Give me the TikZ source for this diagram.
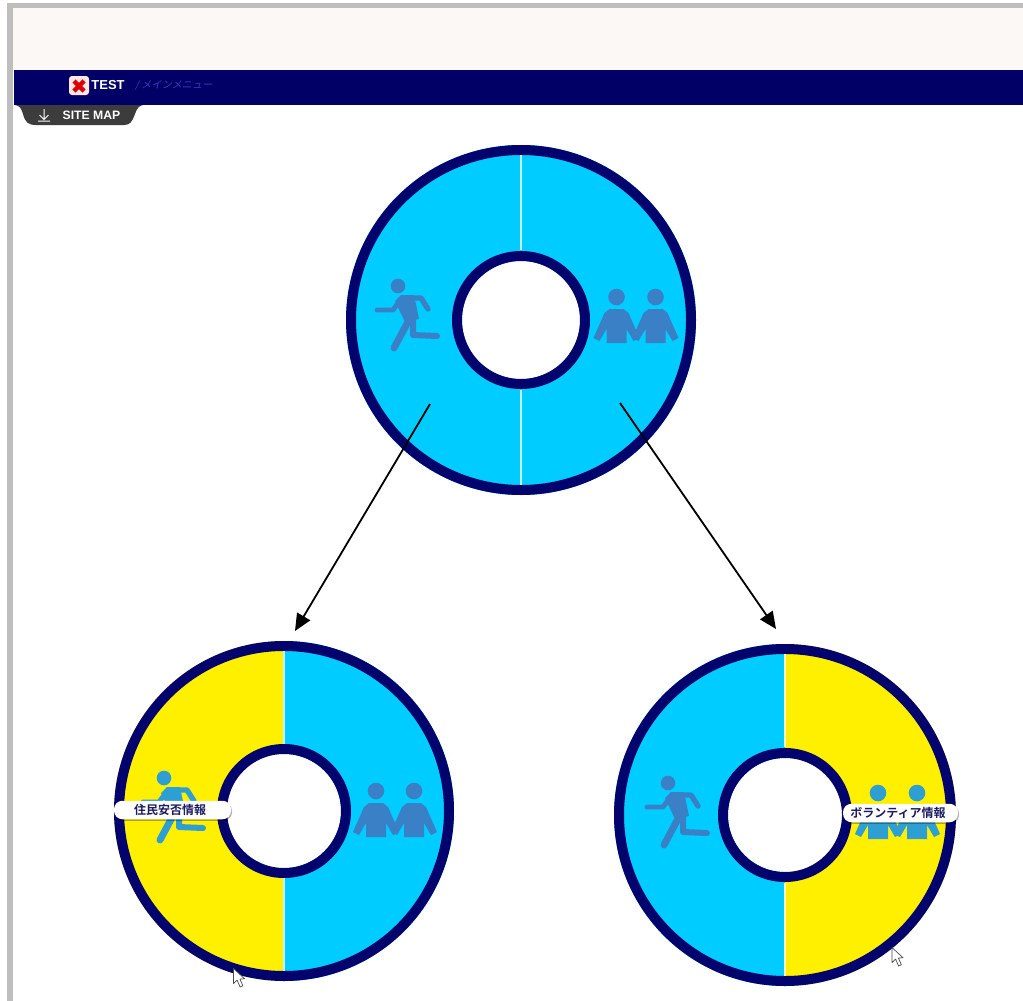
\documentclass[tikz,border=0pt]{standalone}
\usepackage{fontspec}
\setmainfont{Liberation Sans}
\newfontfamily\cjkb{Noto Sans CJK JP Bold}
\newfontfamily\cjkl[FakeSlant=0.2]{Noto Sans CJK JP}
\usetikzlibrary{arrows.meta,shadows}
\definecolor{navyband}{HTML}{000066}
\definecolor{ringnavy}{HTML}{03036E}
\definecolor{skyfill}{HTML}{00CCFF}
\definecolor{yellowfill}{HTML}{FFF000}
\definecolor{iconsky}{HTML}{3A80C6}
\definecolor{iconyel}{HTML}{2E9FD2}
\definecolor{framegray}{HTML}{BEBEBE}
\definecolor{topstrip}{HTML}{FCF8F5}
\definecolor{tabgray}{HTML}{3C3C3C}
\definecolor{menublue}{HTML}{3A3AC0}
\definecolor{labelnavy}{HTML}{1C1C60}
\tikzset{
  flow/.style={draw=black,line width=1.8pt,-{Triangle[length=17pt,width=15pt]}},
  pill/.style={fill=white,rounded corners=8.5pt,minimum height=18.5pt,inner sep=0pt,
    text=labelnavy,font=\cjkb\fontsize{12}{12}\selectfont,
    drop shadow={shadow xshift=1pt,shadow yshift=-1.5pt,opacity=.3,fill=black}},
  limb/.style={line width=5.4pt,line cap=round,line join=round},
  cursorshape/.style={fill=white,draw=black!70,line width=.7pt,line join=round}
}
% ring: cx cy R r leftcolour rightcolour
\newcommand{\ringd}[6]{%
  \begin{scope}[shift={(#1,#2)}]
    \begin{scope}\clip (-400,-400) rectangle (0,400);
      \fill[#5] (0,0) circle (#3 pt);\end{scope}
    \begin{scope}\clip (0,-400) rectangle (400,400);
      \fill[#6] (0,0) circle (#3 pt);\end{scope}
    \draw[ringnavy,line width=10pt] (0,0) circle (#3 pt - 5pt);
    \fill[white] (0,0) circle (#4 pt);
    \draw[ringnavy,line width=10pt] (0,0) circle (#4 pt + 5pt);
  \end{scope}}
\newcommand{\runfig}[3]{%
  \begin{scope}[shift={(#1,#2)},#3]
    \fill (0,0) circle (7.3pt);
    \draw[limb,line width=4.8pt] (-21,24) -- (-5,24) -- (3,13);
    \draw[limb] (4,12) -- (23,12) -- (30,23);
    \fill (-3,15) -- (3,9) -- (16,9) -- (21,33) -- (7,36) -- cycle;
    \draw[limb,line width=6pt] (15,30) -- (15,49) -- (39,50);
    \draw[limb,line width=7pt] (12,32) -- (-4,62);
  \end{scope}}
\newcommand{\personfig}[3]{%
  \begin{scope}[shift={(#1,#2)},#3]
    \fill (0,0) circle (8.3pt);
    \fill (-7,12) -- (7,12) -- (12,16) -- (23,41) -- (17,44) -- (10,32) -- (10,46) -- (-10,46) -- (-10,32) -- (-17,44) -- (-23,41) -- (-12,16) -- cycle;
  \end{scope}}
\newcommand{\cursorfig}[2]{%
  \begin{scope}[shift={(#1,#2)}]
    \path[cursorshape] (0,0) -- (0,15) -- (3.6,11.6) -- (6.6,18.5) -- (9.4,17.2) -- (6.4,10.6) -- (11,10.2) -- cycle;
  \end{scope}}
\begin{document}
\begin{tikzpicture}[x=1pt,y=-1pt]
\useasboundingbox (0,0) rectangle (1023,1001);
\fill[white] (0,0) rectangle (1023,1001);
% frame
\fill[topstrip] (13,8) rectangle (1023,70);
\fill[framegray] (7,3) rectangle (1023,8);
\fill[framegray] (7,3) rectangle (13,1001);
\fill[navyband] (14,70) rectangle (1023,105);
% site map tab
\fill[tabgray] (15,105) .. controls (20,106) and (21,108) .. (23,114) .. controls (25,122) and (28,125) .. (36,125) -- (124,125) .. controls (130,125) and (132,122) .. (135,114) .. controls (137,108) and (139,106) .. (143,105) -- cycle;
\draw[white,line width=1pt] (44,109) -- (44,119) (39.5,115) -- (44,119.5) -- (48.5,115) (38,121) -- (50,121);
\node[text=white,font=\bfseries\fontsize{12.2}{13}\selectfont,inner sep=0pt] (sitemap) at (91.5,115) {SITE MAP};
% header
\fill[white!90!red,rounded corners=3pt] (69,76) rectangle (89,95);
\draw[red!85!black,line width=4.4pt] (74,81) -- (84,91) (84,81) -- (74,91);
\node[text=white,font=\bfseries\fontsize{13}{14}\selectfont,inner sep=0pt] (testlbl) at (108,85.5) {TEST};
\node[text=menublue,font=\cjkl\fontsize{10.2}{12}\selectfont,inner sep=0pt,anchor=west] (menulbl) at (135,85) {/ メインメニュー};
% rings
\ringd{521}{320}{175}{59}{skyfill}{skyfill}
\fill[white!75!skyfill] (520.4,155) rectangle (521.8,250);
\fill[white!75!skyfill] (520.4,390) rectangle (521.8,485);
\ringd{284}{811}{170}{57}{yellowfill}{skyfill}
\fill[white!75!skyfill] (283.4,651) rectangle (285,744);
\fill[white!75!skyfill] (283.4,878) rectangle (285,971);
\ringd{785}{815}{171}{57}{skyfill}{yellowfill}
\fill[white!75!yellowfill] (784.2,654) rectangle (785.6,747);
\fill[white!75!yellowfill] (784.2,883) rectangle (785.6,976);
% icons
\runfig{398}{286}{iconsky}
\personfig{616.5}{297}{iconsky}
\personfig{655.5}{297}{iconsky}
\runfig{164}{778}{iconyel}
\personfig{376}{791}{iconsky}
\personfig{414}{791}{iconsky}
\runfig{668}{783}{iconsky}
\personfig{878}{793}{iconyel}
\personfig{917}{793}{iconyel}
% labels
\node[pill,minimum width=117pt] (lblA) at (172.5,810) {\hspace*{-5pt}住民安否情報};
\node[pill,minimum width=115pt] (lblB) at (900.5,813) {\hspace*{-5pt}ボランティア情報};
% arrows
\coordinate (a1s) at (430,404);
\coordinate (a1e) at (295,631);
\coordinate (a2s) at (620,403);
\coordinate (a2e) at (776,629);
\draw[flow] (a1s) -- (a1e);
\draw[flow] (a2s) -- (a2e);
% cursors
\cursorfig{233.5}{968.5}
\cursorfig{892}{947.5}
\end{tikzpicture}
\end{document}
